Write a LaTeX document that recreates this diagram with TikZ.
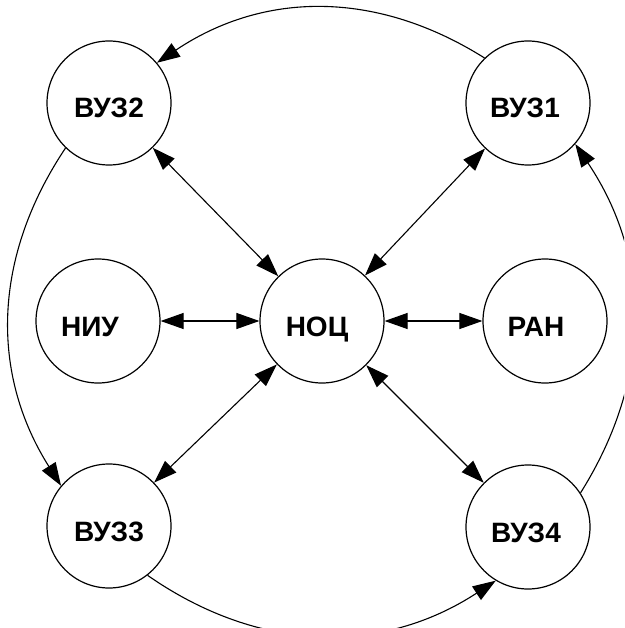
\documentclass[tikz,border=0pt]{standalone}
\usepackage{fontspec}
\setmainfont{Liberation Sans}
\usetikzlibrary{arrows.meta}
\begin{document}
\begin{tikzpicture}[x=1pt,y=-1pt,
  org/.style={circle,draw,line width=1.2pt,minimum size=124pt,inner sep=0pt,
    font=\fontsize{28}{28}\selectfont\bfseries,text height=30pt,text depth=0pt},
  oneway/.style={line width=1.1pt,-{Triangle[length=23pt,width=16pt]}},
  twoway/.style={line width=1.1pt,{Triangle[length=23pt,width=16pt]}-{Triangle[length=23pt,width=16pt]}}]
\useasboundingbox (0,0) rectangle (624,628);
\clip (0,0) rectangle (624,628);
\node[org] (v2) at (109,103) {ВУЗ2};
\node[org] (v1) at (528,103) {ВУЗ1\kern6pt};
\node[org] (niu) at (98,321) {НИУ\kern16pt};
\node[org] (noc) at (322,321) {НОЦ\kern10pt};
\node[org] (ran) at (545,321) {РАН\kern18pt};
\node[org] (v3) at (109,526) {ВУЗ3};
\node[org] (v4) at (528,527) {ВУЗ4\kern4pt};
\draw[twoway] (niu) -- (noc);
\draw[twoway] (noc) -- (ran);
\draw[twoway] (v2) -- (noc);
\draw[twoway] (v1) -- (noc);
\draw[twoway] (v3) -- (noc);
\draw[twoway] (v4) -- (noc);
\draw[oneway] (v1.134) to[bend right=33] (v2.40);
\draw[oneway] (v2.226) to[bend right=33] (v3.140);
\draw[oneway] (v3.-52) to[bend right=34] (v4.-121);
\draw[oneway] (v4.33) to[bend right=33] (v1.-41);
\end{tikzpicture}
\end{document}
